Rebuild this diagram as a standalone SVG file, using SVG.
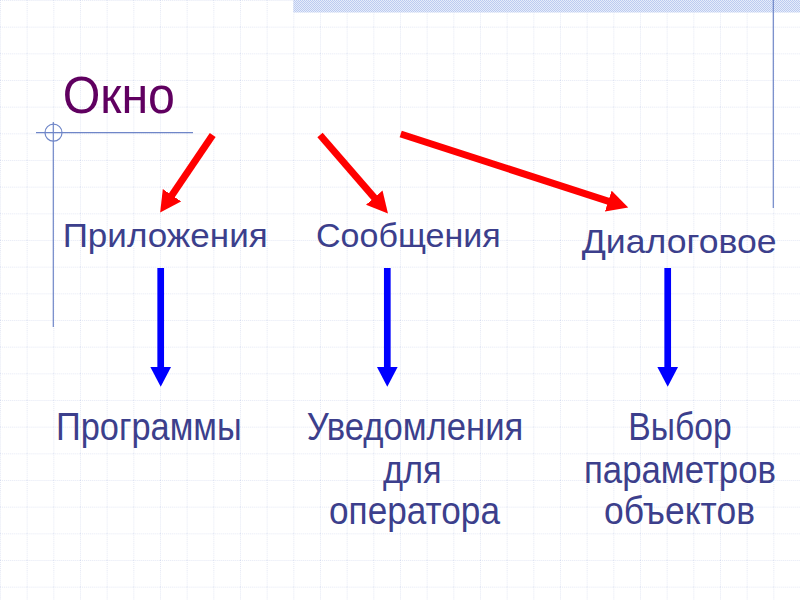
<svg xmlns="http://www.w3.org/2000/svg" width="800" height="600" viewBox="0 0 800 600">
  <defs>
    <pattern id="grid" patternUnits="userSpaceOnUse" width="26.6667" height="26.6667">
      <line x1="0" y1="0" x2="26.6667" y2="0" stroke="#c9d1ea" stroke-width="1" stroke-dasharray="1,1"/>
      <line x1="0" y1="0" x2="0" y2="26.6667" stroke="#c9d1ea" stroke-width="1" stroke-dasharray="1,1"/>
    </pattern>
    <pattern id="band" patternUnits="userSpaceOnUse" width="2" height="2">
      <rect x="0" y="0" width="2" height="2" fill="#e6ecfa"/>
      <rect x="0" y="0" width="1" height="1" fill="#bccbf0"/>
      <rect x="1" y="1" width="1" height="1" fill="#bccbf0"/>
    </pattern>
    <marker id="headRed" markerUnits="userSpaceOnUse" markerWidth="22" markerHeight="22" refX="7" refY="11" orient="auto">
      <path d="M0,0 L21,11 L0,22 Z" fill="#ff0000"/>
    </marker>
    <marker id="headBlue" markerUnits="userSpaceOnUse" markerWidth="22" markerHeight="22" refX="7" refY="11" orient="auto">
      <path d="M0,0.5 L20,11 L0,21.5 Z" fill="#0000ff"/>
    </marker>
  </defs>
  <style>
    .title { font-family: "Liberation Sans", "DejaVu Sans", sans-serif; font-size: 52px; fill: #600060; }
    .lvl1 { font-family: "Liberation Sans", "DejaVu Sans", sans-serif; font-size: 33.5px; fill: #3c3f8c; }
    .lvl2 { font-family: "Liberation Sans", "DejaVu Sans", sans-serif; font-size: 38px; fill: #3c3f8c; }
    .deco { stroke: #6f86c8; stroke-width: 1.2; fill: none; }
    .red { stroke: #ff0000; stroke-width: 7; fill: none; marker-end: url(#headRed); }
    .blue { stroke: #0000ff; stroke-width: 6.7; fill: none; marker-end: url(#headBlue); }
  </style>

  <!-- background -->
  <rect x="0" y="0" width="800" height="600" fill="#ffffff"/>
  <rect x="0" y="0" width="800" height="600" fill="url(#grid)"/>
  <rect x="293.3" y="0" width="506.7" height="12.5" fill="url(#band)"/>
  <line class="deco" x1="773.3" y1="0" x2="773.3" y2="208"/>
  <line class="deco" x1="36" y1="132.7" x2="193" y2="132.7"/>
  <line class="deco" x1="53.3" y1="122" x2="53.3" y2="327"/>
  <circle class="deco" cx="53.5" cy="132.7" r="8.5"/>

  <g id="node-okno">
    <text class="title" x="62.7" y="113.3" textLength="112.3" lengthAdjust="spacingAndGlyphs">Окно</text>
  </g>
  <g id="node-prilozheniya">
    <text class="lvl1" x="62.7" y="246.7" textLength="205" lengthAdjust="spacingAndGlyphs">Приложения</text>
  </g>
  <g id="node-soobshcheniya">
    <text class="lvl1" x="316" y="247.3" textLength="184.7" lengthAdjust="spacingAndGlyphs">Сообщения</text>
  </g>
  <g id="node-dialogovoe">
    <text class="lvl1" x="581.7" y="253" textLength="195" lengthAdjust="spacingAndGlyphs">Диалоговое</text>
  </g>
  <g id="node-programmy">
    <text class="lvl2" x="56" y="440" textLength="185.7" lengthAdjust="spacingAndGlyphs">Программы</text>
  </g>
  <g id="node-uvedomleniya">
    <text class="lvl2" x="306.7" y="440" textLength="216.6" lengthAdjust="spacingAndGlyphs">Уведомления</text>
    <text class="lvl2" x="383" y="483.3" textLength="58.7" lengthAdjust="spacingAndGlyphs">для</text>
    <text class="lvl2" x="329" y="524" textLength="171" lengthAdjust="spacingAndGlyphs">оператора</text>
  </g>
  <g id="node-vybor">
    <text class="lvl2" x="628.3" y="440" textLength="103.4" lengthAdjust="spacingAndGlyphs">Выбор</text>
    <text class="lvl2" x="584" y="483.3" textLength="192" lengthAdjust="spacingAndGlyphs">параметров</text>
    <text class="lvl2" x="604" y="524" textLength="151" lengthAdjust="spacingAndGlyphs">объектов</text>
  </g>

  <g id="connectors">
    <line class="red" x1="212.7" y1="135" x2="168" y2="201"/>
    <line class="red" x1="320" y1="135" x2="378.8" y2="202.9"/>
    <line class="red" x1="400.7" y1="134" x2="614.9" y2="203.3"/>
    <line class="blue" x1="160.7" y1="268" x2="160.7" y2="373.7"/>
    <line class="blue" x1="387.3" y1="268" x2="387.3" y2="373.7"/>
    <line class="blue" x1="667.7" y1="268" x2="667.7" y2="373.7"/>
  </g>
</svg>
